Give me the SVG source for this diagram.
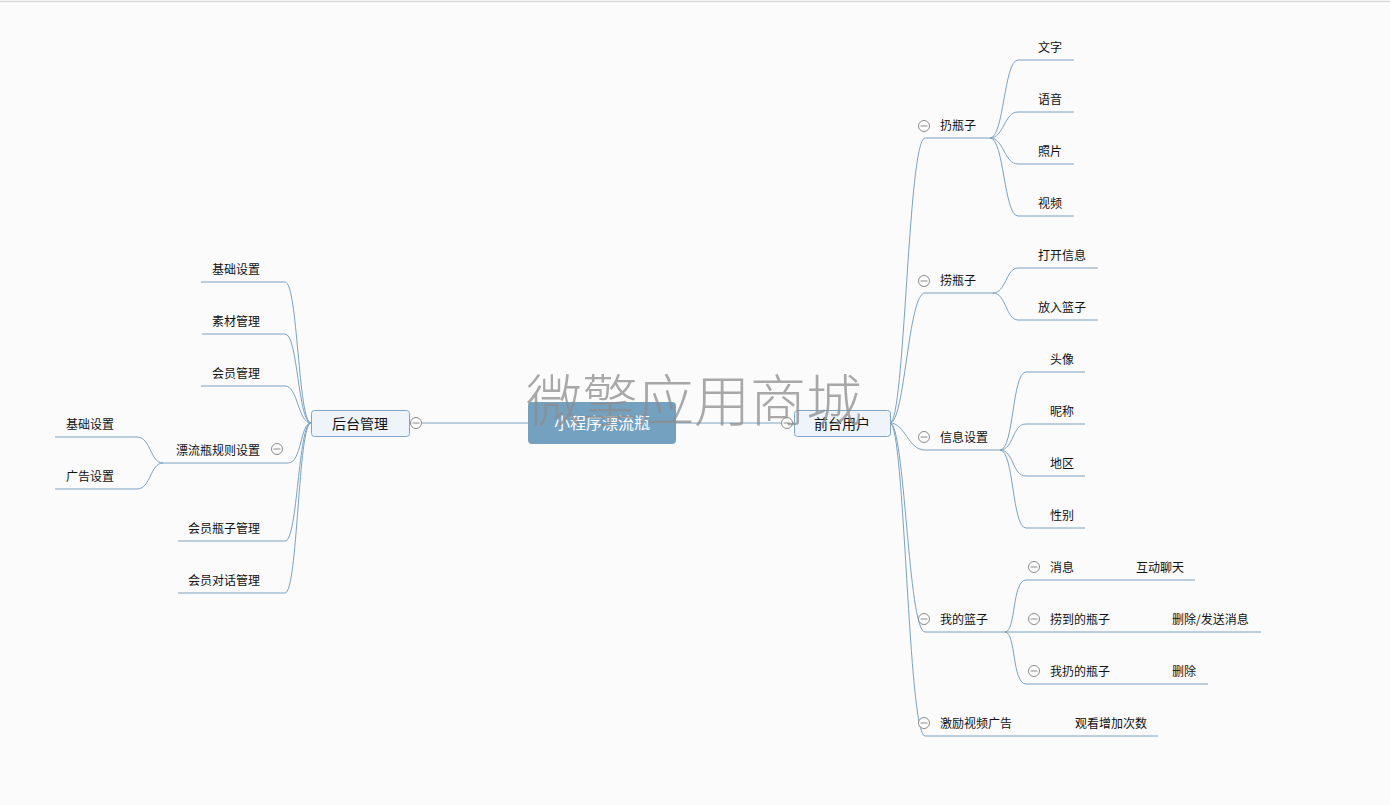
<svg xmlns="http://www.w3.org/2000/svg" width="1390" height="805" viewBox="0 0 1390 805">
<style>
.t{font-family:"Noto Sans CJK SC","Liberation Sans",sans-serif;font-size:12px;fill:#111}
.nt{font-family:"Noto Sans CJK SC","Liberation Sans",sans-serif;font-size:14px;fill:#111;text-anchor:middle}
.ln{fill:none;stroke:#7ba2c2;stroke-width:1}
.cc{fill:#fff;stroke:#8a8a8a;stroke-width:1}
.cm{stroke:#8a8a8a;stroke-width:1}
.wm{font-family:"Noto Sans CJK SC",sans-serif;font-size:56px;fill:#8c8c8c;fill-opacity:0.75;font-weight:300}
</style>
<defs>
<g id="minus"><circle class="cc" r="5.5"/><line class="cm" x1="-3.5" y1="0" x2="3.5" y2="0"/></g>
</defs>
<rect x="0" y="0" width="1390" height="805" fill="#fbfbfb"/>
<line x1="0" y1="1.5" x2="1390" y2="1.5" stroke="#d9d9d9" stroke-width="1.5"/>

<g id="connectors">
<line class="ln" x1="409" y1="423" x2="528" y2="423"/>
<line class="ln" x1="676" y1="423" x2="795" y2="423"/>
<!-- right main -->
<path class="ln" d="M890,423 C905,423 908,138 925,138 L990,138"/>
<path class="ln" d="M890,423 C905,423 908,293 925,293 L993,293"/>
<path class="ln" d="M890,423 C905,423 908,450 925,450 L1000,450"/>
<path class="ln" d="M890,423 C905,423 908,632 925,632 L1005,632"/>
<path class="ln" d="M890,423 C905,423 908,736 925,736 L1158,736"/>
<!-- 扔瓶子 children -->
<path class="ln" d="M990,138 C1004,138 1004,60 1018,60 L1074,60"/>
<path class="ln" d="M990,138 C1004,138 1004,112 1018,112 L1074,112"/>
<path class="ln" d="M990,138 C1004,138 1004,164 1018,164 L1074,164"/>
<path class="ln" d="M990,138 C1004,138 1004,216 1018,216 L1074,216"/>
<!-- 捞瓶子 children -->
<path class="ln" d="M993,293 C1006,293 1006,268 1018,268 L1098,268"/>
<path class="ln" d="M993,293 C1006,293 1006,320 1018,320 L1098,320"/>
<!-- 信息设置 children -->
<path class="ln" d="M1000,450 C1014,450 1012,372 1026,372 L1085,372"/>
<path class="ln" d="M1000,450 C1014,450 1012,424 1026,424 L1085,424"/>
<path class="ln" d="M1000,450 C1014,450 1012,476 1026,476 L1085,476"/>
<path class="ln" d="M1000,450 C1014,450 1012,528 1026,528 L1085,528"/>
<!-- 我的篮子 children -->
<path class="ln" d="M1005,632 C1016,632 1012,580 1026,580 L1195,580"/>
<path class="ln" d="M1005,632 L1261,632"/>
<path class="ln" d="M1005,632 C1016,632 1012,684 1026,684 L1208,684"/>
<!-- left main -->
<path class="ln" d="M311,423 C298,423 298,282 285,282 L201,282"/>
<path class="ln" d="M311,423 C298,423 298,334 285,334 L202,334"/>
<path class="ln" d="M311,423 C298,423 298,386 285,386 L201,386"/>
<path class="ln" d="M311,423 C300,423 302,463 288,463 L163,463"/>
<path class="ln" d="M311,423 C298,423 298,541 285,541 L178,541"/>
<path class="ln" d="M311,423 C298,423 298,593 285,593 L178,593"/>
<!-- 漂流瓶规则设置 children -->
<path class="ln" d="M163,463 C150,463 151,437 137,437 L55,437"/>
<path class="ln" d="M163,463 C150,463 151,489 137,489 L55,489"/>
</g>

<g id="center">
<rect x="528" y="402" width="148" height="42" rx="4" fill="#75a1c1"/>
<text x="602" y="429" text-anchor="middle" style="font-family:'Noto Sans CJK SC',sans-serif;font-size:16px;fill:#fff">小程序漂流瓶</text>
</g>
<g id="houtai">
<rect x="311.5" y="410.5" width="98" height="26" rx="3" fill="#eef4f9" stroke="#7fa6c6"/>
<text class="nt" x="360" y="428.5">后台管理</text>
<use href="#minus" x="416" y="423"/>
</g>
<g id="qiantai">
<rect x="794.5" y="410.5" width="96" height="26" rx="3" fill="#eef4f9" stroke="#7fa6c6"/>
<text class="nt" x="842" y="428.5">前台用户</text>
<use href="#minus" x="787" y="423"/>
</g>

<!-- right children -->
<g id="rengpingzi"><use href="#minus" x="924" y="126"/><text class="t" x="940" y="130">扔瓶子</text></g>
<g id="wenzi"><text class="t" x="1038" y="52">文字</text></g>
<g id="yuyin"><text class="t" x="1038" y="104">语音</text></g>
<g id="zhaopian"><text class="t" x="1038" y="156">照片</text></g>
<g id="shipin"><text class="t" x="1038" y="208">视频</text></g>
<g id="laopingzi"><use href="#minus" x="924" y="281"/><text class="t" x="940" y="285">捞瓶子</text></g>
<g id="dakai"><text class="t" x="1038" y="260">打开信息</text></g>
<g id="fangru"><text class="t" x="1038" y="312">放入篮子</text></g>
<g id="xinxi"><use href="#minus" x="924" y="437"/><text class="t" x="940" y="442">信息设置</text></g>
<g id="touxiang"><text class="t" x="1050" y="364">头像</text></g>
<g id="nicheng"><text class="t" x="1050" y="416">昵称</text></g>
<g id="diqu"><text class="t" x="1050" y="468">地区</text></g>
<g id="xingbie"><text class="t" x="1050" y="520">性别</text></g>
<g id="lanzi"><use href="#minus" x="924" y="619"/><text class="t" x="940" y="624">我的篮子</text></g>
<g id="xiaoxi"><use href="#minus" x="1034" y="567"/><text class="t" x="1050" y="572">消息</text></g>
<g id="hudong"><text class="t" x="1136" y="572">互动聊天</text></g>
<g id="laodao"><use href="#minus" x="1034" y="619"/><text class="t" x="1050" y="624">捞到的瓶子</text></g>
<g id="shanfa"><text class="t" x="1172" y="624">删除/发送消息</text></g>
<g id="woreng"><use href="#minus" x="1034" y="671"/><text class="t" x="1050" y="676">我扔的瓶子</text></g>
<g id="shanchu"><text class="t" x="1172" y="676">删除</text></g>
<g id="jili"><use href="#minus" x="924" y="723"/><text class="t" x="940" y="728">激励视频广告</text></g>
<g id="guankan"><text class="t" x="1075" y="728">观看增加次数</text></g>

<!-- left children -->
<g id="jichu"><text class="t" x="260" y="274" text-anchor="end">基础设置</text></g>
<g id="sucai"><text class="t" x="260" y="326" text-anchor="end">素材管理</text></g>
<g id="huiyuan"><text class="t" x="260" y="378" text-anchor="end">会员管理</text></g>
<g id="guize"><text class="t" x="260" y="455" text-anchor="end">漂流瓶规则设置</text><use href="#minus" x="277" y="449"/></g>
<g id="jichu2"><text class="t" x="66" y="429">基础设置</text></g>
<g id="guanggao"><text class="t" x="66" y="481">广告设置</text></g>
<g id="pingzi"><text class="t" x="260" y="533" text-anchor="end">会员瓶子管理</text></g>
<g id="duihua"><text class="t" x="260" y="585" text-anchor="end">会员对话管理</text></g>

<text class="wm" x="526" y="421">微擎应用商城</text>
</svg>
